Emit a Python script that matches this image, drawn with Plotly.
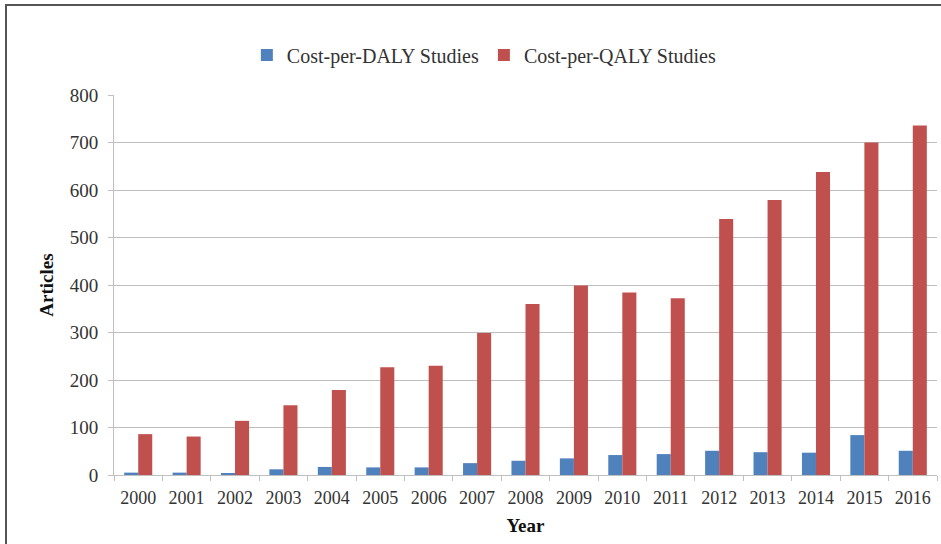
import plotly.graph_objects as go

years = ["2000", "2001", "2002", "2003", "2004", "2005", "2006", "2007", "2008",
         "2009", "2010", "2011", "2012", "2013", "2014", "2015", "2016"]
daly = [5, 5, 3, 12, 17, 16, 16, 25, 30, 35, 42, 44, 51, 48, 47, 84, 51]
qaly = [86, 81, 114, 147, 179, 227, 230, 299, 360, 399, 384, 372, 539, 579, 638, 700, 736]
y_ticks = [0, 100, 200, 300, 400, 500, 600, 700, 800]

FONT = "Liberation Serif"

fig = go.Figure()
fig.add_trace(go.Bar(x=years, y=daly, name="Cost-per-DALY Studies",
                     marker=dict(color="#4F81BD", line=dict(width=0))))
fig.add_trace(go.Bar(x=years, y=qaly, name="Cost-per-QALY Studies",
                     marker=dict(color="#C0504D", line=dict(width=0))))

fig.update_layout(
    width=941, height=544,
    margin=dict(l=114, r=4, t=95, b=69),
    paper_bgcolor="white", plot_bgcolor="white",
    barmode="group", bargap=0.42, bargroupgap=0,
    font=dict(family=FONT, size=19, color="#333333"),
    legend=dict(orientation="h", x=0.45, xanchor="center", y=1.105, yanchor="middle",
                font=dict(family=FONT, size=20, color="#333333"),
                itemwidth=30, traceorder="normal", bgcolor="rgba(0,0,0,0)"),
    xaxis=dict(type="category", tickson="boundaries", ticks="outside", ticklen=5,
               tickcolor="#BFBFBF", showline=True, linecolor="#BFBFBF", linewidth=1,
               showgrid=False, ticklabelstandoff=6, tickangle=0, automargin=False,
               tickfont=dict(family=FONT, size=18, color="#333333"),
               title=dict(text="<b>Year</b>", font=dict(family=FONT, size=19, color="#111111"),
                          standoff=12)),
    yaxis=dict(range=[0, 800], tickvals=y_ticks, ticks="outside", ticklen=5,
               tickcolor="#BFBFBF", showline=True, linecolor="#BFBFBF", linewidth=1,
               showgrid=True, gridcolor="#BEBEBE", gridwidth=1, zeroline=False,
               ticklabelstandoff=6, automargin=False,
               tickfont=dict(family=FONT, size=19, color="#333333"),
               title=dict(text="<b>Articles</b>", font=dict(family=FONT, size=19, color="#111111"),
                          standoff=11)),
    shapes=[dict(type="rect", xref="paper", yref="paper",
                 x0=(6 - 114) / 823, x1=1.2, y0=-0.5, y1=1 + (95 - 5) / 380,
                 line=dict(color="#555555", width=2), fillcolor="rgba(0,0,0,0)",
                 layer="above")],
)

fig.write_html("out.html")
